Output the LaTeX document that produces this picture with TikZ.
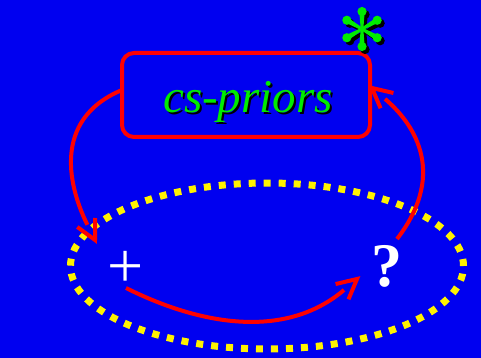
\documentclass[tikz,border=0pt]{standalone}
\usepackage{fontspec}
\setmainfont{Liberation Serif}
\usetikzlibrary{calc,shapes.geometric}
\definecolor{bg}{RGB}{0,0,240}
\definecolor{grn}{RGB}{0,235,0}
\tikzset{
  redline/.style={draw=red, line width=4pt},
  shaft/.style={redline, shorten >=17pt},
  barb/.style={redline, line join=miter},
  txt/.style={inner sep=0pt, anchor=base},
  asterisk/.pic={
    \foreach \a in {90,30,-30,-90,-150,150}{
      \fill (0,0) -- (\a+90:1.3) -- ($(\a:16)+(\a+90:2.6)$) -- ($(\a:16)+(\a-90:2.6)$) -- (\a-90:1.3) -- cycle;
      \fill (\a:17.5) circle (4.6);
    }
  },
}
\begin{document}
\begin{tikzpicture}[x=1pt,y=-1pt]
\fill[bg] (0,0) rectangle (481,358);
\useasboundingbox (0,0) rectangle (481,358);
% ellipse
\node[ellipse, draw=yellow, line width=7pt, dash pattern=on 7pt off 8pt,
      minimum width=393pt, minimum height=166pt, inner sep=0pt, outer sep=0pt] (ell) at (267,266) {};
% box
\node[redline, rounded corners=12pt, minimum width=248pt, minimum height=84pt, outer sep=0pt] (cs) at (246,95) {};
\node[txt, text=black] at (250,115) {\fontsize{47}{50}\selectfont\itshape cs-priors};
\node[txt, text=grn] (cstext) at (248,113) {\fontsize{47}{50}\selectfont\itshape cs-priors};
% star
\pic[black] at (365,32) {asterisk};
\pic[grn] (star) at (362,29) {asterisk};
% plus and question
\node[txt, text=white] (plus) at (126,287) {\fontsize{64}{64}\selectfont +};
\node[txt, text=white] (q) at (387,286) {\fontsize{62}{62}\selectfont\bfseries ?};
% connector ends and controls
\coordinate (a1s) at (122,90);
\coordinate (a1e) at (95,240);
\coordinate (c1a) at (50,120);
\coordinate (c1b) at (70,190);
\coordinate (a2s) at (126,288);
\coordinate (a2e) at (357,279);
\coordinate (c2a) at (200,325);
\coordinate (c2b) at (285,340);
\coordinate (a3s) at (397,239);
\coordinate (a3e) at (372,88);
\coordinate (c3a) at (450,170);
\coordinate (c3b) at (410,120);
\draw[shaft] (a1s) .. controls (c1a) and (c1b) .. (a1e);
\draw[barb] ($(a1e)!22pt!27:(c1b)$) -- (a1e) -- ($(a1e)!22pt!-27:(c1b)$);
\draw[shaft] (a2s) .. controls (c2a) and (c2b) .. (a2e);
\draw[barb] ($(a2e)!22pt!27:(c2b)$) -- (a2e) -- ($(a2e)!22pt!-27:(c2b)$);
\draw[shaft] (a3s) .. controls (c3a) and (c3b) .. (a3e);
\draw[barb] ($(a3e)!22pt!27:(c3b)$) -- (a3e) -- ($(a3e)!22pt!-27:(c3b)$);
\end{tikzpicture}
\end{document}
